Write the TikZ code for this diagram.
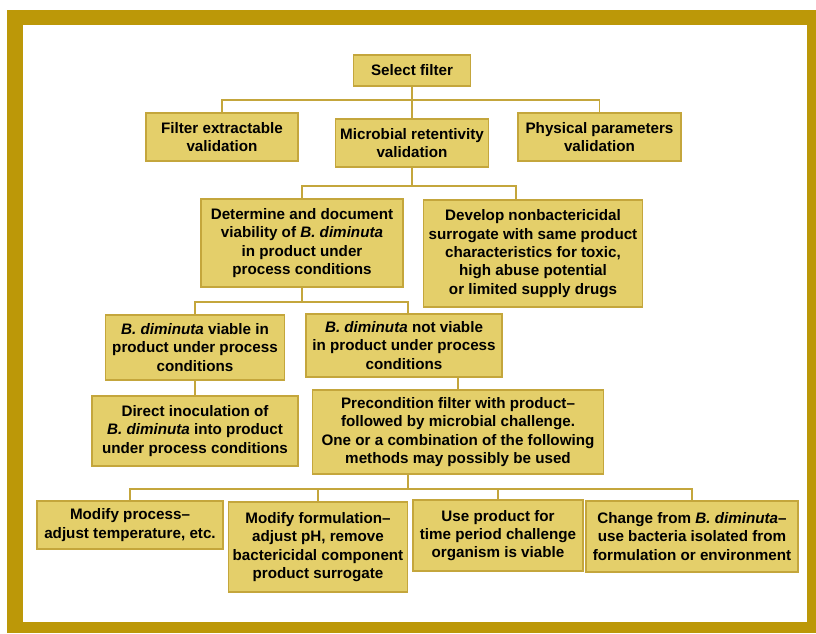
\documentclass[tikz,border=0pt]{standalone}
\usepackage{fontspec}
\setmainfont{Liberation Sans}
\usepackage{tikz}
\definecolor{gold}{RGB}{188,152,8}
\definecolor{boxfill}{RGB}{228,207,106}
\definecolor{boxline}{RGB}{196,166,60}
\tikzstyle{box}=[draw=boxline, fill=boxfill, line width=1.5pt, align=center, inner sep=0pt, font=\fontsize{15.2}{18.4}\selectfont\bfseries]
\tikzstyle{link}=[draw=boxline, line width=1.6pt]

\begin{document}
\begin{tikzpicture}[x=1pt, y=-1pt]
\useasboundingbox (0,0) rectangle (816,633);
\fill[gold] (7,10) rectangle (816,633);
\fill[white] (23,25) rectangle (807,622);

\node[box, minimum width=117, minimum height=31] (sel) at (412,70.5) {Select filter};
\node[box, minimum width=152, minimum height=48] (fil) at (222,137) {Filter extractable\\validation};
\node[box, minimum width=153, minimum height=48] (mic) at (412,143) {Microbial retentivity\\validation};
\node[box, minimum width=163, minimum height=48] (phy) at (599.5,137) {Physical parameters\\validation};
\node[box, minimum width=202, minimum height=88] (det) at (302,243) {Determine and document\\viability of \textit{B. diminuta}\\in product under\\process conditions};
\node[box, minimum width=219, minimum height=107] (dev) at (533,253.5) {Develop nonbactericidal\\surrogate with same product\\characteristics for toxic,\\high abuse potential\\or limited supply drugs};
\node[box, minimum width=179, minimum height=65] (via) at (195,347.5) {\textit{B. diminuta} viable in\\product under process\\conditions};
\node[box, minimum width=196, minimum height=63] (nvi) at (404,345.5) {\textit{B. diminuta} not viable\\in product under process\\conditions};
\node[box, minimum width=206, minimum height=70] (dir) at (195,431) {Direct inoculation of\\\textit{B. diminuta} into product\\under process conditions};
\node[box, minimum width=291, minimum height=84] (pre) at (458,432) {Precondition filter with product–\\followed by microbial challenge.\\One or a combination of the following\\methods may possibly be used};
\node[box, minimum width=186, minimum height=48] (mpr) at (130,525) {Modify process–\\adjust temperature, etc.};
\node[box, minimum width=179, minimum height=90] (mfo) at (318,547) {Modify formulation–\\adjust pH, remove\\bactericidal component\\product surrogate};
\node[box, minimum width=170, minimum height=71] (upr) at (498,535.5) {Use product for\\time period challenge\\organism is viable};
\node[box, minimum width=212, minimum height=71] (chg) at (692,536.5) {Change from \textit{B. diminuta}–\\use bacteria isolated from\\formulation or environment};

\foreach \c in {fil,mic,phy}
  \draw[link] (sel.south) -- ++(0,13) -| (\c.north);
\draw[link] (mic.south) -- ++(0,18) -| (det.north);
\draw[link] (mic.south) -- ++(0,18) -| ([xshift=-17]dev.north);
\draw[link] (det.south) -- ++(0,14) -| (via.north);
\draw[link] (det.south) -- ++(0,14) -| ([xshift=4]nvi.north);
\draw[link] (via) -- (dir);
\draw[link] (pre.north) -- (pre.north |- nvi.south);
\foreach \c in {mpr,mfo,upr,chg}
  \draw[link] ([xshift=-50]pre.south) -- ++(0,14) -| (\c.north);
\end{tikzpicture}
\end{document}
